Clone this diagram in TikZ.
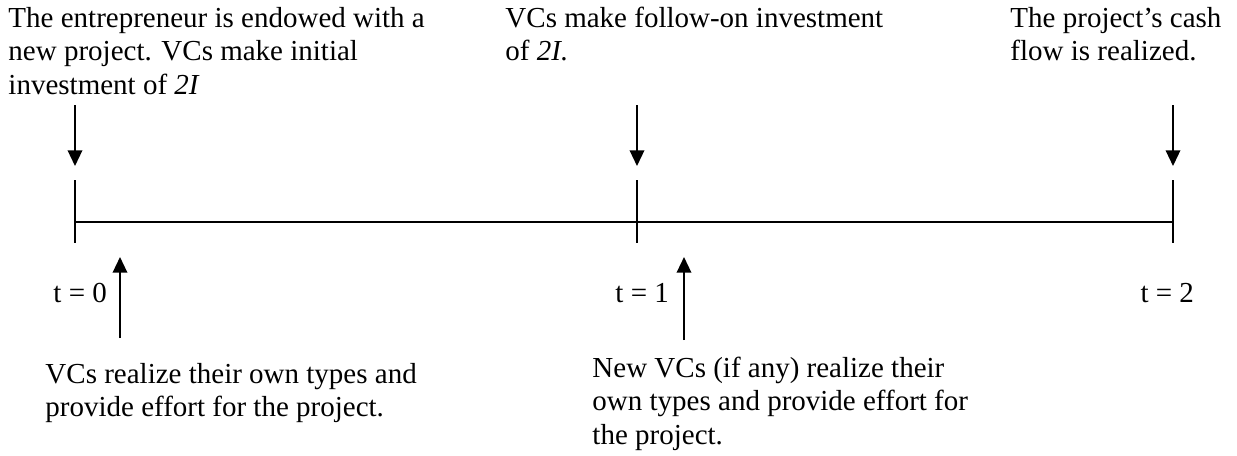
\documentclass[tikz,border=0pt]{standalone}
\usepackage{fontspec}
\setmainfont{Liberation Serif}
\usetikzlibrary{arrows.meta}
\begin{document}
\begin{tikzpicture}[x=0.4138pt,y=-0.4138pt,
  lbl/.style={font=\fontsize{12}{13.8}\selectfont, inner sep=0pt, anchor=north west, align=left},
  tlbl/.style={font=\fontsize{12}{13.8}\selectfont, inner sep=0pt, anchor=base west},
  axis/.style={line width=0.8pt},
  evarrow/.style={line width=0.8pt, -{Triangle[length=6.5pt,width=6pt]}}]
\useasboundingbox (0,0) rectangle (1237,455);
% timeline
\coordinate (t0) at (75,222);
\coordinate (t1) at (637,222);
\coordinate (t2) at (1173,222);
\coordinate (t0top) at (75,180);
\coordinate (t0bot) at (75,243);
\coordinate (t1top) at (637,180);
\coordinate (t1bot) at (637,243);
\coordinate (t2top) at (1173,180);
\coordinate (t2bot) at (1173,243);
\draw[axis] (t0) -- (t2);
\draw[axis] (t0top) -- (t0bot);
\draw[axis] (t1top) -- (t1bot);
\draw[axis] (t2top) -- (t2bot);
% down arrows
\coordinate (d0s) at (75,105);
\coordinate (d0e) at (75,166);
\coordinate (d1s) at (637,105);
\coordinate (d1e) at (637,166);
\coordinate (d2s) at (1173,105);
\coordinate (d2e) at (1173,166);
\draw[evarrow] (d0s) -- (d0e);
\draw[evarrow] (d1s) -- (d1e);
\draw[evarrow] (d2s) -- (d2e);
% up arrows
\coordinate (u0s) at (120,338);
\coordinate (u0e) at (120,257);
\coordinate (u1s) at (684,340);
\coordinate (u1e) at (684,257);
\draw[evarrow] (u0s) -- (u0e);
\draw[evarrow] (u1s) -- (u1e);
% texts
\node[lbl] (txtA) at (8,3.7) {\strut The entrepreneur is endowed with a\\new project. VCs make initial\\investment of \textit{2I}};
\node[lbl] (txtB) at (505,3.7) {\strut VCs make follow-on investment\\of \textit{2I.}};
\node[lbl] (txtC) at (1010,3.7) {\strut The project’s cash\\flow is realized.};
\node[tlbl] (lab0) at (53,302) {t = 0};
\node[tlbl] (lab1) at (615,302) {t = 1};
\node[tlbl] (lab2) at (1140,302) {t = 2};
\node[lbl] (txtD) at (45,359.7) {\strut VCs realize their own types and\\provide effort for the project.};
\node[lbl] (txtE) at (592,353.7) {\strut New VCs (if any) realize their\\own types and provide effort for\\the project.};
\end{tikzpicture}
\end{document}
